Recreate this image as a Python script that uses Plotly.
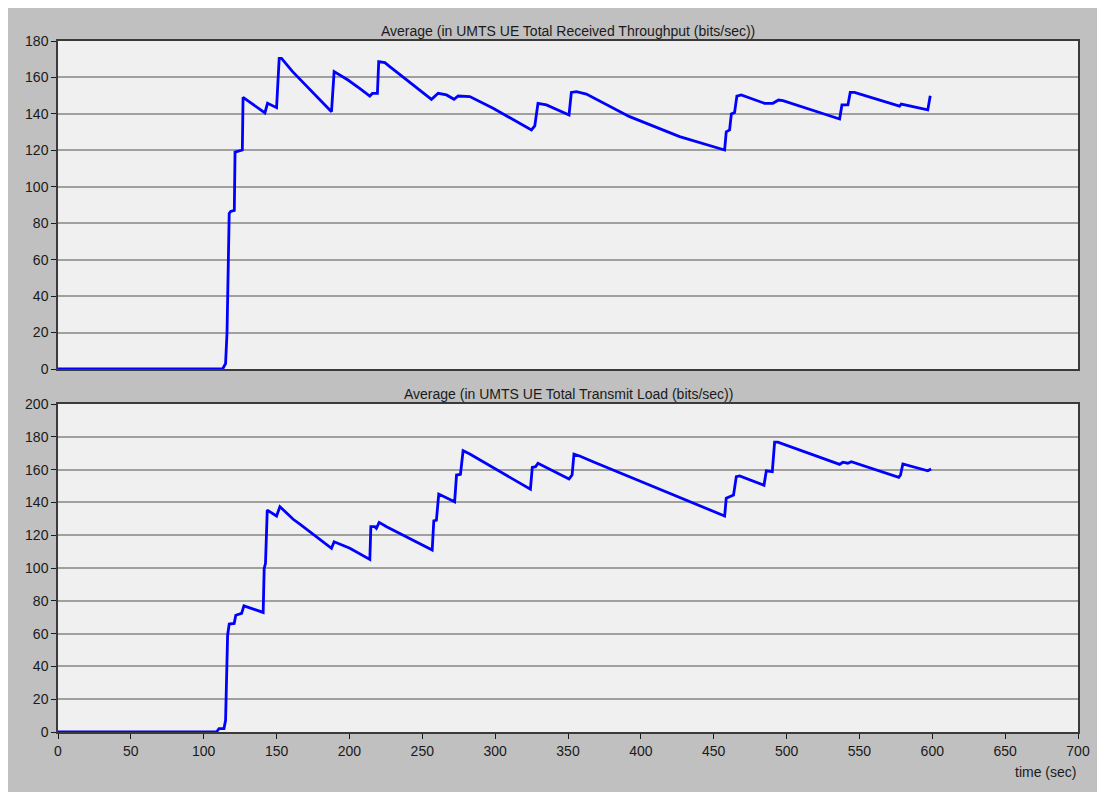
import plotly.graph_objects as go

# Top: Average (in UMTS UE Total Received Throughput (bits/sec))
rx_time = [0, 113, 115, 116, 117.5, 118.5, 121, 121.5, 126.5, 127, 140.8, 142, 143.8, 150,
           151.8, 153.4, 161, 187.7, 189.5, 199, 207, 214, 215.8, 219.2, 220.1, 224.3, 227.7,
           256.3, 260.9, 266.6, 271.8, 274.6, 282.6, 298.6, 324.9, 327.2, 329.4, 335.2, 350.7,
           352.3, 355.8, 362.6, 392.3, 426.6, 457.5, 458.6, 460.9, 462.1, 464.3, 465.9, 468.9,
           484.9, 490.6, 494.5, 497.5, 536.4, 538, 542.1, 543.7, 546.6, 577.5, 578.7, 596.9, 598.6]
rx_vals = [0, 0, 3, 20, 85.4, 86.5, 87, 119, 120.2, 149.1, 141.2, 140.5, 145.8, 143.4,
           170.5, 170.5, 163.2, 141.2, 163.2, 158.6, 154, 149.8, 151.3, 151.3, 168.7, 168.1, 165.9,
           148, 151.3, 150.4, 148, 149.8, 149.5, 143.1, 131.2, 133.4, 145.8, 144.9, 139.4,
           151.8, 152.2, 150.9, 138.5, 127.5, 120.2, 130.2, 131.2, 140, 140.7, 149.8, 150.4,
           145.8, 145.8, 147.6, 147.3, 137.2, 144.9, 144.9, 151.8, 151.8, 144.3, 145.4, 142.2, 150]

# Bottom: Average (in UMTS UE Total Transmit Load (bits/sec))
tx_time = [0, 108.8, 110.5, 113.9, 115, 116.4, 117.5, 120.9, 122, 126, 127.6, 140.8, 141.5,
           142.4, 143.6, 150, 152.3, 161.4, 166, 187.7, 189.5, 200.3, 214, 214.7, 217.4, 218.5,
           220.4, 225.5, 256.8, 257.9, 259.7, 261.3, 272.2, 273.5, 276.2, 278, 282.6, 303.2,
           324.2, 325.5, 327.8, 329.4, 350.7, 352.8, 354.1, 358, 367.2, 457.5, 458.6, 463.6,
           465.5, 467.8, 484.5, 486.1, 490.2, 491.8, 494, 536.4, 538.6, 542, 544.4, 577, 578.2,
           579.8, 596.9, 599.2]
tx_vals = [0, 0, 2.1, 2.1, 7.1, 59, 65.8, 66.2, 71.2, 72.3, 76.9, 72.9, 99.7,
           102.8, 135.3, 131.7, 137.4, 129.7, 126.8, 112, 116, 112, 105.2, 125.2, 125.2, 124.2,
           127.8, 125.2, 110.9, 128.8, 129.2, 145.1, 140.4, 156.7, 157.1, 171.5, 169.5, 158.7,
           148, 161.4, 161.8, 163.9, 154.3, 156.7, 169.4, 168.3, 164.8, 131.7, 142.5, 144.5,
           155.7, 156.1, 150.4, 159.3, 158.7, 176.7, 176.7, 163.2, 164.5, 163.9, 164.8, 155.3, 156.7,
           163.4, 159.3, 160.4]

top_title = "Average (in UMTS UE Total Received Throughput (bits/sec))"
bottom_title = "Average (in UMTS UE Total Transmit Load (bits/sec))"
x_label = "time (sec)"

# figure sits at (8,8) in the page because of the body margin
W, H = 1097, 784
L, R, T, B = 50, 27, 33, 60
PW, PH = W - L - R, H - T - B

def py(y):  # figure pixel y -> paper y
    return (H - B - y) / PH

fig = go.Figure()
fig.add_trace(go.Scatter(x=rx_time, y=rx_vals, mode="lines",
                         line=dict(color="#0000ff", width=2.8), xaxis="x", yaxis="y"))
fig.add_trace(go.Scatter(x=tx_time, y=tx_vals, mode="lines",
                         line=dict(color="#0000ff", width=2.8), xaxis="x2", yaxis="y2"))

font = dict(family="Liberation Sans, Arial, sans-serif", size=14, color="#1a1a1a")

axis_common = dict(showline=True, linecolor="#3a3a3a", linewidth=1.5, mirror=True,
                   zeroline=False, tickfont=font)

fig.update_layout(
    width=W, height=H,
    margin=dict(l=L, r=R, t=T, b=B),
    paper_bgcolor="#c0c0c0",
    plot_bgcolor="#f0f0f0",
    showlegend=False,
    font=font,
    xaxis=dict(domain=[0, 1], anchor="y", range=[0, 700], showticklabels=False,
               ticks="", showgrid=False, **axis_common),
    yaxis=dict(domain=[py(361), 1], anchor="x", range=[0, 180], dtick=20,
               ticks="outside", ticklen=5, tickcolor="#1a1a1a",
               showgrid=True, gridcolor="#a0a0a0", gridwidth=1.5, **axis_common),
    xaxis2=dict(domain=[0, 1], anchor="y2", range=[0, 700], dtick=50,
                ticks="outside", ticklen=5, tickcolor="#1a1a1a", showgrid=False,
                **axis_common),
    yaxis2=dict(domain=[0, py(396)], anchor="x2", range=[0, 200], dtick=20,
                ticks="outside", ticklen=5, tickcolor="#1a1a1a",
                showgrid=True, gridcolor="#a0a0a0", gridwidth=1.5, **axis_common),
    annotations=[
        dict(text=top_title, x=0.5, y=py(23), xref="paper", yref="paper",
             xanchor="center", yanchor="middle", showarrow=False, font=font),
        dict(text=bottom_title, x=0.5, y=py(386), xref="paper", yref="paper",
             xanchor="center", yanchor="middle", showarrow=False, font=font),
        dict(text=x_label, x=1, y=py(764), xref="paper", yref="paper",
             xanchor="right", yanchor="middle", showarrow=False, font=font),
    ],
)

fig.write_html("out.html")
